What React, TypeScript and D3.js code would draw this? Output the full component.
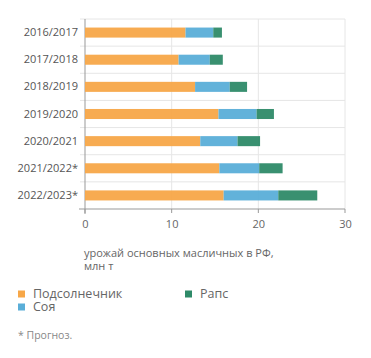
import { useRef, useEffect } from 'react';
import * as d3 from "d3";

const seasons = ["2016/2017", "2017/2018", "2018/2019", "2019/2020", "2020/2021", "2021/2022*", "2022/2023*"];
const sunflower = [11.6, 10.8, 12.7, 15.4, 13.3, 15.5, 16.0];
const soy = [3.2, 3.6, 4.0, 4.4, 4.3, 4.6, 6.3];
const rapeseed = [1.0, 1.5, 2.0, 2.0, 2.6, 2.7, 4.5];
const seriesNames = ["Подсолнечник", "Соя", "Рапс"];
const colors = ["#f7a748", "#5aaed8", "#2e8a68"];
const xTicks = [0, 10, 20, 30];

const width = 371;
const height = 358;
const marginLeft = 85;
const marginRight = 26;
const marginTop = 19;
const plotBottom = 209;
const font = "'Open Sans', sans-serif";

export default function App() {
  const gx = useRef(null);
  const gy = useRef(null);
  const x = d3.scaleLinear([0, 30], [marginLeft, width - marginRight]);
  const y = d3.scaleBand(seasons, [marginTop, plotBottom]).paddingInner(0.63).paddingOuter(0.315);
  const rows = seasons.map((s, i) => ({ season: s, a: sunflower[i], b: soy[i], c: rapeseed[i] }));
  const stacked = d3.stack().keys(["a", "b", "c"])(rows);

  useEffect(() => {
    const g = d3.select(gx.current);
    g.call(d3.axisBottom(x).tickValues(xTicks).tickSize(0).tickPadding(11));
    g.select(".domain").remove();
    g.selectAll("text").attr("fill", "#666").style("font-family", font).style("font-size", "11px");
  }, []);
  useEffect(() => {
    const g = d3.select(gy.current);
    g.call(d3.axisLeft(y).tickSize(0).tickPadding(6));
    g.select(".domain").remove();
    g.selectAll("text").attr("fill", "#555").style("font-family", font).style("font-size", "11px");
  }, []);

  // horizontal separators between rows
  const seps = d3.range(seasons.length + 1).map(i => marginTop + (plotBottom - marginTop) * i / seasons.length);

  return (
    <svg width={width} height={height} style={{ position: "absolute", left: 0, top: 0 }}>
      <g stroke="#e6e6e6" strokeWidth={1}>
        {xTicks.slice(1).map(t => <line key={t} x1={x(t)} x2={x(t)} y1={marginTop} y2={plotBottom} />)}
        {seps.map((s, i) => <line key={i} x1={i === seasons.length ? 79 : 80} x2={x(30)} y1={s} y2={s} stroke={i === seasons.length ? "#999" : "#e6e6e6"} />)}
      </g>
      <line x1={x(0)} x2={x(0)} y1={marginTop} y2={plotBottom + 5} stroke="#999" />
      {xTicks.map(t => <line key={t} x1={x(t)} x2={x(t)} y1={plotBottom} y2={plotBottom + 4} stroke="#999" />)}
      {stacked.map((layer, k) => (
        <g key={k} fill={colors[k]} fillOpacity={0.95}>
          {layer.map((d, i) => (
            <rect key={i} x={x(d[0])} width={x(d[1]) - x(d[0])} y={y(seasons[i])} height={y.bandwidth()} />
          ))}
        </g>
      ))}
      <g ref={gx} transform={`translate(0,${plotBottom})`} />
      <g ref={gy} transform={`translate(${marginLeft - 1},0)`} />
      <g fill="#666" fontFamily={font} fontSize={11}>
        <text x={84} y={257}>урожай основных масличных в РФ,</text>
        <text x={84} y={270}>млн т</text>
      </g>
      <g fontFamily={font} fontSize={12.5} fill="#666">
        {seriesNames.map((n, i) => {
          const lx = i === 2 ? 185 : 18;
          const ly = i === 1 ? 307 : 294;
          return (
            <g key={n}>
              <rect x={lx} y={ly - 3.5} width={7} height={7} fill={colors[i]} />
              <text x={lx + 15} y={ly} dy="0.35em">{n}</text>
            </g>
          );
        })}
        <text x={18} y={335} dy="0.35em" fontSize={10.5} fill="#888">* Прогноз.</text>
      </g>
    </svg>
  );
}
